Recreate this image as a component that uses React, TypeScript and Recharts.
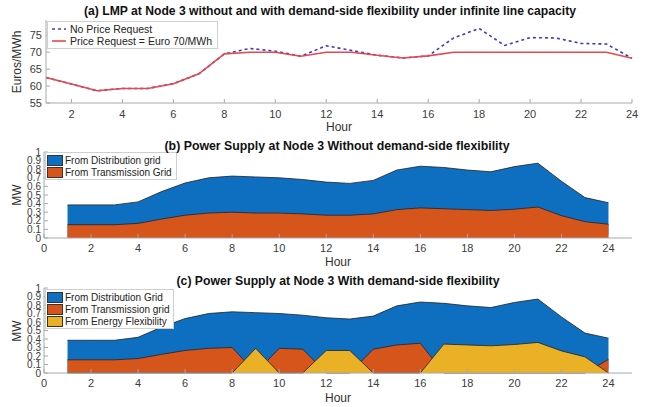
import React from 'react';
import {
  LineChart,
  Line,
  AreaChart,
  Area,
  XAxis,
  YAxis,
  Legend,
} from 'recharts';

// hours 1..24
const hours = [1, 2, 3, 4, 5, 6, 7, 8, 9, 10, 11, 12, 13, 14, 15, 16, 17, 18, 19, 20, 21, 22, 23, 24];

// (a) LMP, Euro/MWh
const lmpNoRequest = [62.5, 60.6, 58.6, 59.3, 59.3, 60.7, 63.6, 69.5, 71.1, 70.3, 68.8, 71.9, 70.5, 69.1, 68.3, 68.9, 74.2, 77.0, 72.0, 74.3, 74.2, 72.6, 72.4, 68.2];
const lmpWithRequest = [62.5, 60.6, 58.6, 59.3, 59.3, 60.7, 63.6, 69.5, 70.0, 70.0, 68.8, 70.0, 70.0, 69.1, 68.3, 68.9, 70.0, 70.0, 70.0, 70.0, 70.0, 70.0, 70.0, 68.2];

// (b) / (c) supply, MW (top of blue area = total supply)
const totalSupply = [0.385, 0.385, 0.385, 0.42, 0.54, 0.64, 0.7, 0.72, 0.71, 0.7, 0.68, 0.65, 0.635, 0.67, 0.79, 0.835, 0.82, 0.79, 0.77, 0.83, 0.87, 0.66, 0.47, 0.41];
const transmissionNoFlex = [0.155, 0.155, 0.155, 0.17, 0.22, 0.265, 0.29, 0.3, 0.29, 0.29, 0.28, 0.265, 0.265, 0.28, 0.33, 0.35, 0.34, 0.33, 0.32, 0.335, 0.36, 0.26, 0.19, 0.16];
const transmissionFlex = [0.155, 0.155, 0.155, 0.17, 0.22, 0.265, 0.29, 0.3, 0, 0.29, 0.28, 0, 0, 0.28, 0.33, 0.35, 0, 0, 0, 0, 0, 0, 0, 0.16];
const energyFlex = [0, 0, 0, 0, 0, 0, 0, 0, 0.29, 0, 0, 0.265, 0.265, 0, 0, 0, 0.34, 0.33, 0.32, 0.335, 0.36, 0.26, 0.19, 0];

const hourTicksA = [2, 4, 6, 8, 10, 12, 14, 16, 18, 20, 22, 24];
const hourTicksB = [0, 2, 4, 6, 8, 10, 12, 14, 16, 18, 20, 22, 24];
const lmpTicks = [55, 60, 65, 70, 75];
const mwTicks = [0, 0.1, 0.2, 0.3, 0.4, 0.5, 0.6, 0.7, 0.8, 0.9, 1];

const FONT = "'Liberation Sans', Arial, Helvetica, sans-serif";
const BLUE = '#0E6FC1';
const ORANGE = '#D6551B';
const YELLOW = '#EAB126';
const AXIS = '#a8a8a8';
const EDGE = '#222';

const lmpData = hours.map((h, i) => ({ hour: h, noRequest: lmpNoRequest[i], request: lmpWithRequest[i] }));
const supplyB = hours.map((h, i) => ({ hour: h, total: totalSupply[i], transmission: transmissionNoFlex[i] }));
const supplyC = hours.map((h, i) => ({
  hour: h,
  total: totalSupply[i],
  transmission: transmissionFlex[i],
  flex: energyFlex[i],
}));

const tickStyle = { fill: '#3c3c3c', fontSize: 11, fontFamily: FONT };
const mwTickStyle = { fill: '#3c3c3c', fontSize: 10, fontFamily: FONT };

const LineLegend = () => (
  <div style={{ background: '#fff', border: '1px solid #cfcfcf', padding: '1px 5px 1px 3px', fontFamily: FONT, fontSize: 10.5, color: '#222', lineHeight: '12px' }}>
    <div style={{ display: 'flex', alignItems: 'center' }}>
      <svg width={16} height={6} style={{ marginRight: 3 }}>
        <line x1={1} y1={3} x2={15} y2={3} stroke="#3a3acb" strokeWidth={1.5} strokeDasharray="3 3" />
      </svg>
      No Price Request
    </div>
    <div style={{ display: 'flex', alignItems: 'center' }}>
      <svg width={16} height={6} style={{ marginRight: 3 }}>
        <line x1={1} y1={3} x2={15} y2={3} stroke="#e8474c" strokeWidth={1.6} />
      </svg>
      Price Request = Euro 70/MWh
    </div>
  </div>
);

const AreaLegend = ({ items }: { items: { label: string; color: string }[] }) => (
  <div style={{ background: '#fff', border: '1px solid #cfcfcf', padding: '1px 4px 1px 1px', fontFamily: FONT, fontSize: 10, color: '#222', lineHeight: '11px' }}>
    {items.map((it) => (
      <div key={it.label} style={{ display: 'flex', alignItems: 'center' }}>
        <span style={{ display: 'inline-block', width: 14, height: 9, background: it.color, border: '1px solid #333', marginRight: 2, marginTop: 1 }} />
        {it.label}
      </div>
    ))}
  </div>
);

// top and right edges of the MATLAB-style box, ticks pointing inward
const BoxAxes = ({ domainX, ticksX, domainY, ticksY }: any) => [
  <XAxis key="tx" xAxisId="top" orientation="top" type="number" domain={domainX} ticks={ticksX} height={0} tick={false} tickSize={-4} stroke={AXIS} allowDataOverflow />,
  <YAxis key="ry" yAxisId="right" orientation="right" type="number" domain={domainY} ticks={ticksY} width={0} tick={false} tickSize={-4} stroke={AXIS} allowDataOverflow interval={0} />,
];

export default function App() {
  return (
    <div style={{ position: 'absolute', left: 0, top: 0, width: 653, height: 407, background: '#fff', overflow: 'hidden' }}>
      <div style={{ position: 'absolute', left: 0, top: 0 }}>
        <LineChart width={653} height={130} data={lmpData} margin={{ top: 20, right: 21, bottom: 0, left: 0 }}>
          <XAxis dataKey="hour" type="number" domain={[1, 24]} ticks={hourTicksA} interval={0} height={27} tickSize={-4} tickMargin={11} stroke={AXIS} tick={tickStyle} />
          <YAxis type="number" domain={[55, 79.5]} ticks={lmpTicks} interval={0} width={46} tickSize={-4} tickMargin={8} stroke={AXIS} tick={tickStyle} allowDataOverflow />
          {BoxAxes({ domainX: [1, 24], ticksX: hourTicksA, domainY: [55, 79.5], ticksY: lmpTicks })}
          <Line type="linear" dataKey="noRequest" stroke="#3a3acb" strokeWidth={1.6} strokeDasharray="3 3" dot={false} isAnimationActive={false} />
          <Line type="linear" dataKey="request" stroke="#e8474c" strokeWidth={1.6} dot={false} isAnimationActive={false} />
          <Legend layout="vertical" align="center" verticalAlign="middle" wrapperStyle={{ left: 47, top: 21, width: 'auto' }} content={() => <LineLegend />} />
        </LineChart>
      </div>

      <div style={{ position: 'absolute', left: 0, top: 132 }}>
        <AreaChart width={653} height={132} data={supplyB} margin={{ top: 20, right: 21, bottom: 0, left: 0 }}>
          <XAxis dataKey="hour" type="number" domain={[0, 25]} ticks={hourTicksB} interval={0} height={26} tickSize={-4} tickMargin={10} stroke={AXIS} tick={tickStyle} />
          <YAxis type="number" domain={[0, 1]} ticks={mwTicks} width={44} tickSize={-4} tickMargin={7} stroke={AXIS} tick={mwTickStyle} interval={0} />
          {BoxAxes({ domainX: [0, 25], ticksX: hourTicksB, domainY: [0, 1], ticksY: mwTicks })}
          <Area type="linear" dataKey="total" fill={BLUE} fillOpacity={1} stroke={EDGE} strokeWidth={0.8} isAnimationActive={false} />
          <Area type="linear" dataKey="transmission" fill={ORANGE} fillOpacity={1} stroke={EDGE} strokeWidth={0.8} isAnimationActive={false} />
          <Legend
            layout="vertical"
            align="center"
            verticalAlign="middle"
            wrapperStyle={{ left: 45, top: 20, width: 'auto' }}
            content={() => (
              <AreaLegend items={[{ label: 'From Distribution grid', color: BLUE }, { label: 'From Transmission Grid', color: ORANGE }]} />
            )}
          />
        </AreaChart>
      </div>

      <div style={{ position: 'absolute', left: 0, top: 268 }}>
        <AreaChart width={653} height={131} data={supplyC} margin={{ top: 20, right: 21, bottom: 0, left: 0 }}>
          <XAxis dataKey="hour" type="number" domain={[0, 25]} ticks={hourTicksB} interval={0} height={26} tickSize={-4} tickMargin={10} stroke={AXIS} tick={tickStyle} />
          <YAxis type="number" domain={[0, 1]} ticks={mwTicks} width={44} tickSize={-4} tickMargin={7} stroke={AXIS} tick={mwTickStyle} interval={0} />
          {BoxAxes({ domainX: [0, 25], ticksX: hourTicksB, domainY: [0, 1], ticksY: mwTicks })}
          <Area type="linear" dataKey="total" fill={BLUE} fillOpacity={1} stroke={EDGE} strokeWidth={0.8} isAnimationActive={false} />
          <Area type="linear" dataKey="transmission" fill={ORANGE} fillOpacity={1} stroke={EDGE} strokeWidth={0.8} isAnimationActive={false} />
          <Area type="linear" dataKey="flex" fill={YELLOW} fillOpacity={1} stroke={EDGE} strokeWidth={0.8} isAnimationActive={false} />
          <Legend
            layout="vertical"
            align="center"
            verticalAlign="middle"
            wrapperStyle={{ left: 45, top: 21, width: 'auto' }}
            content={() => (
              <AreaLegend
                items={[
                  { label: 'From Distribution Grid', color: BLUE },
                  { label: 'From Transmission grid', color: ORANGE },
                  { label: 'From Energy Flexibility', color: YELLOW },
                ]}
              />
            )}
          />
        </AreaChart>
      </div>

      <svg width={653} height={407} style={{ position: 'absolute', left: 0, top: 0, pointerEvents: 'none' }} fontFamily={FONT}>
        <g fill="#111" fontWeight="bold" fontSize={12.5} textAnchor="middle">
          <text x={330} y={15} textLength={492} lengthAdjust="spacingAndGlyphs">
            (a) LMP at Node 3 without and with demand-side flexibility under infinite line capacity
          </text>
          <text x={337} y={150} textLength={345} lengthAdjust="spacingAndGlyphs">
            (b) Power Supply at Node 3 Without demand-side flexibility
          </text>
          <text x={338} y={285} textLength={323} lengthAdjust="spacingAndGlyphs">
            (c) Power Supply at Node 3 With demand-side flexibility
          </text>
        </g>
        <g fill="#333" fontSize={12} textAnchor="middle">
          <text x={339} y={131}>Hour</text>
          <text x={338} y={266}>Hour</text>
          <text x={338} y={402}>Hour</text>
          <text transform="translate(21,62) rotate(-90)">Euros/MWh</text>
          <text transform="translate(21,195) rotate(-90)">MW</text>
          <text transform="translate(21,331) rotate(-90)">MW</text>
        </g>
      </svg>
    </div>
  );
}
